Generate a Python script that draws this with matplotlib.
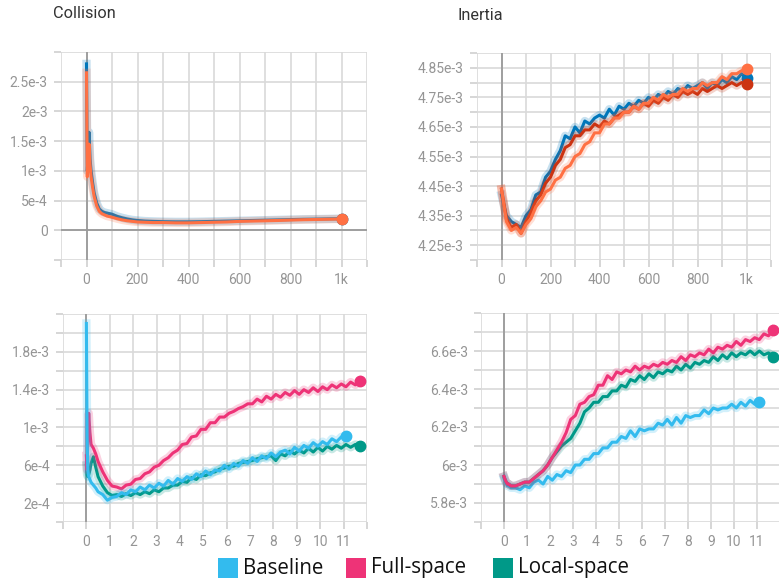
import matplotlib
matplotlib.use("Agg")
import matplotlib.pyplot as plt
from matplotlib.patches import Rectangle
import numpy as np

plt.rcParams['font.family'] = ['Roboto', 'DejaVu Sans']

# ---- top row: training steps ----
col_steps = [0, 3, 6, 10, 14, 18, 24, 30, 40, 50, 60, 70, 80, 90, 100, 120, 140, 160, 180,
             200, 230, 260, 300, 350, 400, 450, 500, 550, 600, 650, 700, 750, 800, 850, 900, 950, 1000]
col_blue = [28.0, 10.0, 12.5, 16.5, 12.0, 10.0, 8.0, 6.3, 4.6, 3.6, 3.2, 3.0, 2.9, 2.8, 2.7, 2.35, 2.1, 1.9, 1.75,
            1.65, 1.55, 1.5, 1.45, 1.42, 1.42, 1.45, 1.5, 1.55, 1.6, 1.65, 1.7, 1.75, 1.8, 1.85, 1.88, 1.92, 1.95]
col_orange = [26.5, 9.0, 11.0, 14.5, 11.0, 9.0, 7.2, 5.7, 4.1, 3.2, 2.8, 2.6, 2.4, 2.3, 2.2, 1.95, 1.75, 1.6, 1.5,
              1.4, 1.35, 1.3, 1.3, 1.25, 1.25, 1.3, 1.35, 1.4, 1.5, 1.55, 1.6, 1.65, 1.72, 1.78, 1.82, 1.86, 1.9]

ine_blue = [4.42, 4.35, 4.33, 4.32, 4.31, 4.35, 4.37, 4.42, 4.43, 4.48, 4.50, 4.54, 4.57, 4.62, 4.61, 4.65, 4.63,
            4.67, 4.66, 4.68, 4.69, 4.68, 4.71, 4.69, 4.72, 4.71, 4.73, 4.72, 4.74, 4.73, 4.75, 4.74, 4.76, 4.75,
            4.77, 4.76, 4.78, 4.77, 4.79, 4.78, 4.79, 4.80, 4.78, 4.80, 4.79, 4.81, 4.80, 4.82, 4.81, 4.83, 4.815]
ine_red = [4.44, 4.34, 4.31, 4.32, 4.29, 4.33, 4.36, 4.40, 4.42, 4.46, 4.48, 4.52, 4.54, 4.58, 4.59, 4.62, 4.62,
           4.64, 4.64, 4.66, 4.65, 4.67, 4.66, 4.68, 4.69, 4.70, 4.70, 4.72, 4.71, 4.73, 4.72, 4.74, 4.73, 4.75,
           4.74, 4.76, 4.75, 4.77, 4.76, 4.77, 4.76, 4.78, 4.77, 4.78, 4.79, 4.78, 4.79, 4.80, 4.79, 4.80, 4.795]
ine_orange = [4.44, 4.33, 4.30, 4.31, 4.29, 4.32, 4.34, 4.38, 4.40, 4.43, 4.44, 4.47, 4.48, 4.51, 4.52, 4.55, 4.56,
              4.59, 4.60, 4.63, 4.63, 4.66, 4.66, 4.68, 4.68, 4.70, 4.70, 4.72, 4.71, 4.73, 4.73, 4.75, 4.74, 4.76,
              4.75, 4.76, 4.76, 4.78, 4.77, 4.78, 4.78, 4.80, 4.79, 4.80, 4.80, 4.82, 4.81, 4.83, 4.83, 4.84, 4.845]

# ---- bottom row: epochs ----
ep_head = [0, 0.03, 0.06, 0.1, 0.15, 0.2, 0.3, 0.4]
ep_start, ep_step = 0.5, 0.2

bl_base = [21.0, 9.0, 5.5, 4.8, 4.5, 4.2, 3.9, 3.6,
           3.2, 2.9, 2.3, 2.6, 2.7, 3.1, 2.9, 3.4, 3.2, 3.7, 3.4, 3.9, 3.6, 4.1, 3.8, 4.4, 4.0, 4.6, 4.3, 4.8,
           4.5, 5.1, 4.8, 5.4, 5.0, 5.5, 5.4, 6.0, 5.6, 6.2, 5.9, 6.5, 6.2, 6.8, 6.4, 7.0, 6.7, 7.3, 6.9, 7.4,
           7.6, 7.2, 7.9, 7.5, 8.1, 7.8, 8.4, 8.0, 8.5, 8.2, 8.8, 8.5, 9.0, 9.1]
bl_full = [7.0, 5.5, 9.0, 11.5, 9.5, 8.2, 7.8, 7.2,
           6.4, 5.3, 4.4, 3.8, 3.7, 3.5, 3.9, 4.0, 4.5, 4.6, 5.1, 5.3, 5.8, 6.0, 6.5, 6.8, 7.3, 7.6, 8.2, 8.3,
           9.0, 9.1, 9.8, 9.8, 10.5, 10.5, 11.1, 11.1, 11.5, 11.7, 12.0, 12.2, 12.5, 12.5, 13.0, 12.7, 13.3,
           13.0, 13.5, 13.2, 13.7, 13.4, 13.9, 13.5, 14.0, 13.7, 14.2, 13.8, 14.3, 14.0, 14.5, 14.2, 14.6,
           14.3, 14.8, 14.5, 14.9]
bl_local = [6.0, 5.0, 4.8, 5.0, 5.5, 6.2, 6.9, 5.8,
            4.8, 3.8, 3.1, 2.8, 2.9, 2.7, 3.0, 2.8, 3.1, 2.9, 3.2, 3.0, 3.4, 3.2, 3.6, 3.6, 3.9, 3.9, 4.3, 4.2,
            4.7, 4.5, 5.0, 4.9, 5.2, 5.3, 5.6, 5.7, 5.9, 5.9, 6.2, 6.3, 6.4, 6.5, 6.7, 6.8, 6.9, 7.0, 6.5, 7.2,
            7.0, 7.5, 7.2, 7.6, 7.3, 7.8, 7.4, 7.9, 7.5, 8.0, 7.7, 8.1, 7.8, 8.2, 7.9, 8.2, 8.0]

br_base = [5.93, 5.92, 5.91, 5.90, 5.89, 5.89, 5.88, 5.88,
           5.88, 5.87, 5.89, 5.88, 5.91, 5.92, 5.90, 5.94, 5.92, 5.95, 5.94, 5.97, 5.96, 6.00, 6.00, 6.03,
           6.03, 6.06, 6.06, 6.09, 6.09, 6.12, 6.12, 6.15, 6.14, 6.18, 6.15, 6.19, 6.18, 6.19, 6.19, 6.22,
           6.21, 6.24, 6.21, 6.25, 6.22, 6.26, 6.25, 6.26, 6.26, 6.29, 6.27, 6.30, 6.29, 6.30, 6.30, 6.32,
           6.30, 6.33, 6.31, 6.34, 6.32, 6.33]
br_full = [5.94, 5.93, 5.92, 5.91, 5.90, 5.90, 5.89, 5.89,
           5.89, 5.90, 5.91, 5.91, 5.93, 5.95, 5.97, 6.00, 6.04, 6.08, 6.12, 6.17, 6.24, 6.26, 6.32, 6.33,
           6.36, 6.37, 6.42, 6.42, 6.47, 6.45, 6.49, 6.48, 6.50, 6.49, 6.52, 6.50, 6.52, 6.51, 6.53, 6.52,
           6.54, 6.53, 6.55, 6.54, 6.57, 6.55, 6.58, 6.57, 6.59, 6.58, 6.61, 6.59, 6.62, 6.61, 6.63, 6.62,
           6.65, 6.63, 6.66, 6.65, 6.67, 6.66, 6.69, 6.68, 6.71]
br_local = [5.94, 5.93, 5.92, 5.91, 5.90, 5.90, 5.89, 5.89,
            5.89, 5.90, 5.91, 5.91, 5.93, 5.95, 5.97, 6.00, 6.04, 6.07, 6.10, 6.12, 6.14, 6.18, 6.22, 6.28,
            6.30, 6.33, 6.33, 6.36, 6.36, 6.39, 6.39, 6.42, 6.41, 6.45, 6.44, 6.47, 6.45, 6.48, 6.46, 6.49,
            6.48, 6.50, 6.49, 6.52, 6.50, 6.53, 6.51, 6.54, 6.53, 6.55, 6.54, 6.57, 6.55, 6.58, 6.56, 6.59,
            6.57, 6.59, 6.58, 6.60, 6.58, 6.60, 6.58, 6.59, 6.57]

legend_names = ['Baseline', 'Full-space', 'Local-space']
c_base, c_full, c_local = '#33bbee', '#ee3377', '#009988'
c_blue, c_red, c_orange = '#0077bb', '#cc3311', '#ff7043'

top_xticks = np.arange(-100, 1101, 100)
top_xlabels = ['', '0', '', '200', '', '400', '', '600', '', '800', '', '1k', '']
col_yticks = np.arange(-5, 31, 5) * 1e-4
col_ylabels = ['', '0', '5e-4', '1e-3', '1.5e-3', '2e-3', '2.5e-3', '']
ine_yticks = np.arange(420, 491, 5) * 1e-5
ine_ylabels = ['' if i % 2 == 0 else '%.2fe-3' % (t * 1e3) for i, t in enumerate(ine_yticks)]
bot_xticks = np.arange(-1, 13)
bot_xlabels = [''] + [str(i) for i in range(12)] + ['']
bl_yticks = np.arange(0, 23, 2) * 1e-4
bl_ylabels = ['', '2e-4', '', '6e-4', '', '1e-3', '', '1.4e-3', '', '1.8e-3', '', '']
br_yticks = np.arange(57, 69) * 1e-4
br_ylabels = ['', '5.8e-3', '', '6e-3', '', '6.2e-3', '', '6.4e-3', '', '6.6e-3', '', '']

W, H = 779, 585
fig = plt.figure(figsize=(W / 100, H / 100), dpi=100)


def px_axes(l, t, r, b):
    return fig.add_axes([l / W, 1 - b / H, (r - l) / W, (b - t) / H])


def style(ax, xt, xl, yt, yl, xlim, ylim):
    ax.set_xlim(*xlim)
    ax.set_ylim(*ylim)
    ax.set_xticks(xt)
    ax.set_xticklabels(xl)
    ax.set_yticks(yt)
    ax.set_yticklabels(yl)
    for s in ax.spines.values():
        s.set_visible(False)
    ax.grid(True, color='#d9d9d9', lw=1.2)
    ax.set_axisbelow(True)
    ax.tick_params(length=5, width=1.2, color='#d0d0d0', labelcolor='#959595', labelsize=10, pad=4.5)
    ax.axvline(0, color='#9a9a9a', lw=1.3, zorder=1)


def curve(ax, x, y, color):
    ax.plot(x, y, color=color, lw=6, alpha=0.22, solid_joinstyle='round')
    ax.plot(x, y, color=color, lw=2.2)
    ax.plot(x[-1], y[-1], 'o', color=color, ms=7.5)


def ep_x(vals):
    n = len(vals) - len(ep_head)
    return np.concatenate([ep_head, ep_start + ep_step * np.arange(n)])


# Collision
ax = px_axes(61, 52, 367, 260)
style(ax, top_xticks, top_xlabels, col_yticks, col_ylabels, (-100, 1100), (-5e-4, 3e-3))
ax.axhline(0, color='#9a9a9a', lw=1.3, zorder=1)
curve(ax, np.array(col_steps), np.array(col_blue) * 1e-4, c_blue)
curve(ax, np.array(col_steps), np.array(col_orange) * 1e-4, c_orange)
fig.text(53 / W, 1 - 13 / H, 'Collision', fontsize=11.7, color='#333333', va='center')

# Inertia
ax = px_axes(477, 53, 771, 260)
style(ax, top_xticks, top_xlabels, ine_yticks, ine_ylabels, (-100, 1100), (4.2e-3, 4.9e-3))
for vals, c in [(ine_blue, c_blue), (ine_red, c_red), (ine_orange, c_orange)]:
    curve(ax, np.linspace(0, 1000, len(vals)), np.array(vals) * 1e-3, c)
fig.text(457 / W, 1 - 15 / H, 'Inertia', fontsize=11.7, color='#333333', va='center')

# bottom left
ax = px_axes(63, 314, 367, 522)
style(ax, bot_xticks, bot_xlabels, bl_yticks, bl_ylabels, (-1, 12), (0, 2.2e-3))
for vals, c in [(bl_local, c_local), (bl_full, c_full), (bl_base, c_base)]:
    curve(ax, ep_x(vals), np.array(vals) * 1e-4, c)

# bottom right
ax = px_axes(481, 313, 780, 522)
style(ax, bot_xticks, bot_xlabels, br_yticks, br_ylabels, (-1, 12), (5.7e-3, 6.8e-3))
for vals, c in [(br_base, c_base), (br_local, c_local), (br_full, c_full)]:
    curve(ax, ep_x(vals), np.array(vals) * 1e-3, c)

# legend
for name, c, xs in zip(legend_names, [c_base, c_full, c_local], [218, 346, 493]):
    fig.patches.append(Rectangle((xs / W, 1 - 578 / H), 20 / W, 20 / H, transform=fig.transFigure,
                                 facecolor=c, edgecolor='none'))
    fig.text((xs + 25) / W, 1 - 568 / H, name, fontsize=14.8, family=['Open Sans', 'DejaVu Sans'],
             color='#111111', va='center')

fig.savefig('out.png', dpi=100)
